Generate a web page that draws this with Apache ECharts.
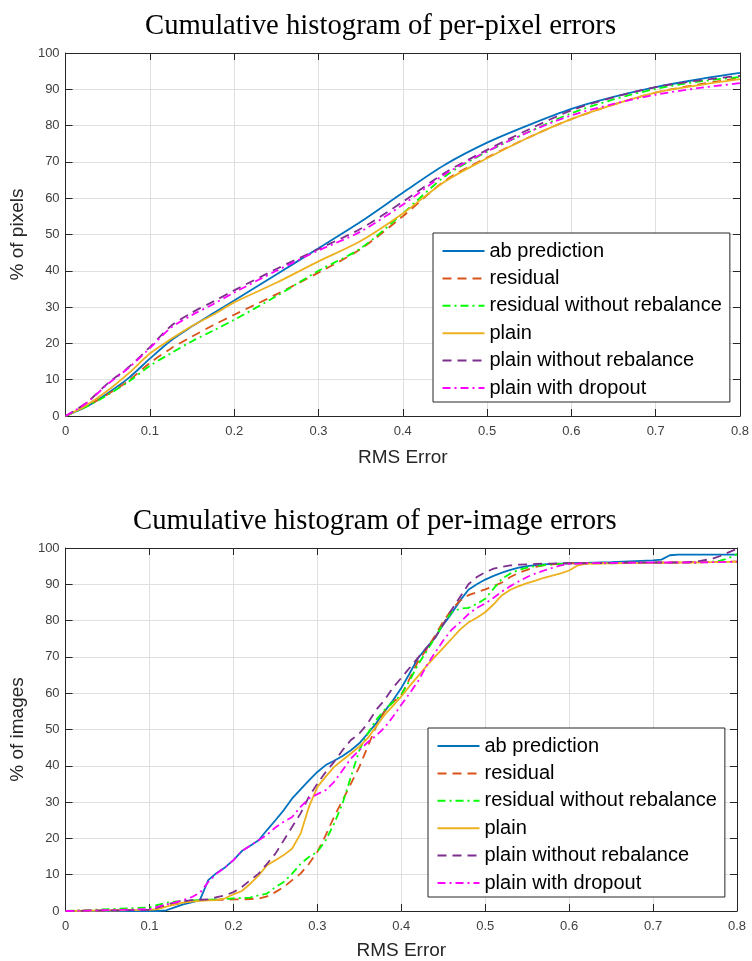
<!DOCTYPE html>
<html><head><meta charset="utf-8">
<script src="https://cdn.jsdelivr.net/npm/echarts@6/dist/echarts.min.js"></script>
<style>html,body{margin:0;padding:0;background:#fff}#c{width:752px;height:961px}</style>
</head><body><div id="c"></div>
<script>
// ---------- data ----------
const seriesNames = ['ab prediction','residual','residual without rebalance','plain','plain without rebalance','plain with dropout'];
const xTickLabels = ['0','0.1','0.2','0.3','0.4','0.5','0.6','0.7','0.8'];
const yTickLabels = ['0','10','20','30','40','50','60','70','80','90','100'];

// per-pixel errors
const pixelX    = [0,0.025,0.05,0.075,0.1,0.125,0.15,0.175,0.2,0.25,0.3,0.35,0.4,0.45,0.5,0.55,0.6,0.65,0.7,0.75,0.8];
const pixAb     = [0,2.6,6.3,10.5,15.8,20.8,24.7,28.3,31.8,39.0,46.2,53.5,61.5,69.2,75.3,80.2,84.6,87.9,90.6,92.7,94.5];
const pixRes    = [0,2.7,6.0,9.8,14.6,18.6,21.9,25.0,27.9,33.5,39.5,46.0,55.0,64.8,71.2,76.8,81.8,85.8,89.1,91.3,93.1];
const pixResNo  = [0,2.6,5.8,9.5,13.8,17.3,20.6,23.5,26.5,33.0,40.0,46.2,55.8,66.0,72.8,78.3,83.4,87.2,90.1,92.1,93.4];
const pixPlain  = [0,3.0,7.0,11.8,17.2,21.2,24.8,27.9,31.3,36.7,42.6,48.2,55.8,64.6,71.0,76.8,81.8,85.8,89.1,91.1,92.8];
const pixPlainNo= [0,3.7,9.0,13.5,19.0,24.8,28.5,31.5,34.6,40.5,46.0,51.6,59.0,67.0,73.3,79.0,84.2,87.8,90.6,92.4,93.7];
const pixDrop   = [0,3.6,8.8,13.3,18.7,24.3,27.8,30.8,34.0,40.0,45.6,50.8,58.2,66.6,72.9,78.3,82.8,86.0,88.5,90.3,91.7];

// per-image errors
const imageX = [0,0.1,0.11,0.12,0.13,0.14,0.15,0.16,0.17,0.18,0.19,0.2,0.21,0.22,0.23,0.24,0.25,0.26,0.27,0.28,0.29,0.3,0.31,0.32,0.33,0.34,0.35,0.36,0.37,0.38,0.39,0.4,0.41,0.42,0.43,0.44,0.45,0.46,0.47,0.48,0.49,0.5,0.51,0.52,0.53,0.54,0.55,0.56,0.57,0.58,0.59,0.6,0.61,0.62,0.65,0.7,0.71,0.72,0.73,0.75,0.77,0.78,0.79,0.8];
const imgAb = [0,0,0,0.2,1.0,1.8,2.4,3.0,8.5,10.5,12.0,14.0,16.5,18.0,19.5,22.3,25.0,27.8,31.0,33.5,36.0,38.3,40.2,41.4,42.7,44.3,46.2,48.9,51.7,55.0,58.0,61.4,65.5,69.7,72.5,75.2,78.9,82.0,85.5,88.5,90.0,91.3,92.3,93.2,94.0,94.6,95.0,95.3,95.5,95.6,95.7,95.8,95.9,95.9,96.1,96.6,96.8,98.0,98.2,98.2,98.2,98.2,98.2,98.2];
const imgRes = [0,0.3,0.8,1.3,1.8,2.3,2.7,3.0,3.0,3.1,3.1,3.2,3.2,3.3,3.4,4.0,5.2,6.6,8.5,10.3,13.0,16.3,20.9,26.0,30.5,35.1,39.7,45.3,50.8,55.0,57.5,59.5,64.0,68.8,72.0,75.8,79.8,83.0,85.5,87.0,87.8,88.6,89.5,90.5,92.0,93.2,94.0,94.8,95.2,95.5,95.7,95.8,95.8,95.8,95.9,96.0,96.0,96.0,96.0,96.1,96.1,96.2,96.2,96.3];
const imgResNo = [0,1.0,1.7,2.3,2.6,2.8,2.9,3.0,3.1,3.2,3.3,3.5,3.6,3.7,4.3,4.8,6.6,8.0,10.3,13.0,14.9,16.3,19.5,24.1,29.6,37.0,44.3,48.9,52.6,55.4,57.5,59.6,63.5,67.9,71.5,75.2,79.2,82.3,83.3,83.5,84.6,86.0,88.8,91.5,93.0,94.0,94.6,95.0,95.3,95.5,95.6,95.7,95.7,95.8,95.8,95.9,95.9,95.9,95.9,96.0,96.2,96.5,97.2,98.3];
const imgPlain = [0,0.3,0.5,1.2,1.8,2.3,2.6,2.8,2.9,3.0,3.5,4.6,5.5,7.5,9.8,12.6,14.0,15.4,17.2,21.3,28.7,34.2,37.0,39.7,41.6,43.4,45.3,47.6,50.8,54.0,56.5,59.1,62.0,64.7,67.5,70.0,72.5,75.0,77.5,79.5,80.8,82.3,84.5,87.0,88.5,89.5,90.3,91.0,91.8,92.4,93.0,93.8,95.2,95.6,95.8,95.9,95.9,95.9,96.0,96.0,96.1,96.1,96.2,96.2];
const imgPlainNo = [0,0.3,1.0,1.8,2.3,2.7,3.0,3.1,3.2,3.8,4.3,5.2,6.6,8.5,10.3,13.0,15.8,19.5,23.2,26.9,31.5,35.1,38.3,41.1,44.3,47.1,48.9,51.7,55.4,58.1,61.5,64.2,67.0,69.8,72.5,75.2,79.0,83.0,86.5,90.0,92.0,93.3,94.3,94.8,95.2,95.4,95.5,95.6,95.7,95.7,95.8,95.8,95.8,95.8,95.9,96.0,96.0,96.0,96.0,96.2,97.0,97.8,98.8,99.8];
const imgDrop = [0,0.5,1.2,1.8,2.3,3.0,3.8,5.0,8.0,10.3,12.0,14.0,16.5,18.0,19.5,21.0,23.0,24.6,25.9,28.7,31.0,32.2,33.3,35.6,38.8,42.0,44.3,46.5,48.3,50.5,53.5,56.8,60.0,63.3,67.5,71.1,74.5,77.5,79.5,81.8,83.5,84.7,86.3,88.0,89.5,90.8,92.0,93.0,93.8,94.5,95.2,95.6,95.7,95.8,95.9,96.0,96.0,96.0,96.0,96.0,96.1,96.1,96.2,96.2];

// ---------- styling ----------
const SANS = '"Liberation Sans", Arial, Helvetica, sans-serif';
const SERIF = '"Liberation Serif", "Times New Roman", serif';
const colors = ['#0072BD','#D95319','#00FF00','#EDB120','#7E2F8E','#FF00FF'];
const dashes = ['solid',[9,6],[8,4,2,4],'solid',[9,6],[8,4,2,4]];
const AX = '#262626';

function zip(xs, ys){ return xs.map((x,i)=>[x, ys[i]]); }

function xAxisMain(gi, nameGap){
  return {type:'value', gridIndex:gi, min:0, max:0.8, interval:0.1, position:'bottom',
    name:'RMS Error', nameLocation:'middle', nameGap:nameGap,
    nameTextStyle:{fontSize:19, color:AX, fontFamily:SANS},
    axisLine:{onZero:false, lineStyle:{color:AX, width:1}},
    axisTick:{inside:true, length:7, lineStyle:{color:AX}},
    axisLabel:{margin:9, fontSize:13, color:'#404040', fontFamily:SANS,
      formatter:(v)=>xTickLabels[Math.round(v*10)]},
    splitLine:{show:true, lineStyle:{color:'#dfdfdf', width:1}}};
}
function xAxisTop(gi){
  return {type:'value', gridIndex:gi, min:0, max:0.8, interval:0.1, position:'top',
    axisLine:{onZero:false, lineStyle:{color:AX, width:1}},
    axisTick:{inside:true, length:7, lineStyle:{color:AX}},
    axisLabel:{show:false}, splitLine:{show:false}};
}
function yAxisMain(gi, name, nameGap){
  return {type:'value', gridIndex:gi, min:0, max:100, interval:10, position:'left',
    name:name, nameLocation:'middle', nameGap:nameGap,
    nameTextStyle:{fontSize:19, color:AX, fontFamily:SANS},
    axisLine:{onZero:false, lineStyle:{color:AX, width:1}},
    axisTick:{inside:true, length:7, lineStyle:{color:AX}},
    axisLabel:{margin:6, fontSize:13, color:'#404040', fontFamily:SANS,
      formatter:(v)=>yTickLabels[Math.round(v/10)]},
    splitLine:{show:true, lineStyle:{color:'#dfdfdf', width:1}}};
}
function yAxisRight(gi){
  return {type:'value', gridIndex:gi, min:0, max:100, interval:10, position:'right',
    axisLine:{onZero:false, lineStyle:{color:AX, width:1}},
    axisTick:{inside:true, length:7, lineStyle:{color:AX}},
    axisLabel:{show:false}, splitLine:{show:false}};
}
function legendAt(left, top){
  return {orient:'vertical', left:left, top:top, padding:[8,8,4,8.5], itemGap:7.4,
    itemWidth:42, itemHeight:14, backgroundColor:'#fff', borderColor:AX, borderWidth:1,
    borderRadius:0, selectedMode:false,
    textStyle:{fontSize:20, lineHeight:20, color:'#000', fontFamily:SANS},
    itemStyle:{opacity:0}, data:seriesNames};
}

const pixSets = [pixAb, pixRes, pixResNo, pixPlain, pixPlainNo, pixDrop];
const imgSets = [imgAb, imgRes, imgResNo, imgPlain, imgPlainNo, imgDrop];
const series = [];
pixSets.forEach((ys,i)=>series.push({type:'line', name:seriesNames[i], xAxisIndex:0, yAxisIndex:0,
  data:zip(pixelX, ys), showSymbol:false, symbol:'none', smooth:0.3,
  lineStyle:{color:colors[i], width:1.8, type:dashes[i]}, itemStyle:{color:colors[i]}}));
imgSets.forEach((ys,i)=>series.push({type:'line', name:seriesNames[i], xAxisIndex:2, yAxisIndex:2,
  data:zip(imageX, ys), showSymbol:false, symbol:'none',
  lineStyle:{color:colors[i], width:1.8, type:dashes[i]}, itemStyle:{color:colors[i]}}));

const chart = echarts.init(document.getElementById('c'), null, {renderer:'canvas'});
chart.setOption({
  animation:false,
  backgroundColor:'#fff',
  title:[
    {text:'Cumulative histogram of per-pixel errors', left:145, top:12, padding:0,
     textStyle:{fontFamily:SERIF, fontSize:28.7, fontWeight:'normal', color:'#000'}},
    {text:'Cumulative histogram of per-image errors', left:133, top:507, padding:0,
     textStyle:{fontFamily:SERIF, fontSize:28.7, fontWeight:'normal', color:'#000'}}
  ],
  grid:[
    {left:64, top:53, width:678, height:363, containLabel:false},
    {left:59, top:548, width:678, height:363, containLabel:false}
  ],
  xAxis:[xAxisMain(0, 32), xAxisTop(0), xAxisMain(1, 30), xAxisTop(1)],
  yAxis:[yAxisMain(0, '% of pixels', 28), yAxisRight(0), yAxisMain(1, '% of images', 33), yAxisRight(1)],
  legend:[legendAt(433, 233), legendAt(428, 728)],
  series:series
});
</script></body></html>
